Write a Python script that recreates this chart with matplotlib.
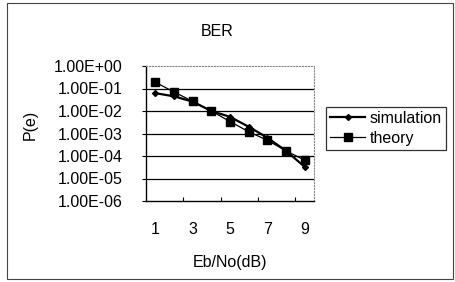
import matplotlib
matplotlib.use("Agg")
import matplotlib.pyplot as plt
from matplotlib.patches import Rectangle

plt.rcParams['font.family'] = ['Liberation Sans', 'DejaVu Sans']

# Eb/No (dB) and bit error rates
ebno = [1, 2, 3, 4, 5, 6, 7, 8, 9]
simulation = [6.2e-2, 4.5e-2, 2.6e-2, 1.0e-2, 5.5e-3, 2.0e-3, 6.5e-4, 1.7e-4, 3.3e-5]
theory = [1.9e-1, 7.0e-2, 2.7e-2, 1.0e-2, 3.4e-3, 1.2e-3, 5.0e-4, 1.7e-4, 6.5e-5]
y_ticks = [1e0, 1e-1, 1e-2, 1e-3, 1e-4, 1e-5, 1e-6]
y_labels = ["1.00E+00", "1.00E-01", "1.00E-02", "1.00E-03", "1.00E-04", "1.00E-05", "1.00E-06"]
x_labels = ["1", "3", "5", "7", "9"]

fs = 11.5

fig = plt.figure(figsize=(4.55, 2.82), dpi=100)
ax = fig.add_axes([146/455, 1 - 201/282, 168/455, 135/282])

ax.plot(ebno, simulation, color='black', lw=1.6, marker='D', ms=3, label='simulation')
ax.plot(ebno, theory, color='black', lw=0.9, marker='s', ms=6, label='theory')

ax.set_yscale('log')
ax.set_ylim(1e-6, 1e0)
ax.set_xlim(0.5, 9.5)
ax.set_yticks(y_ticks)
ax.set_yticklabels(y_labels, fontsize=fs)
ax.minorticks_off()
ax.set_xticks([1, 3, 5, 7, 9])
ax.set_xticklabels(x_labels, fontsize=fs)
ax.set_xticks([2.5, 4.5, 6.5, 8.5], minor=True)
ax.tick_params(axis='x', which='major', length=0, pad=15)
ax.tick_params(axis='x', which='minor', direction='in', length=3, width=0.8)
ax.tick_params(axis='y', which='major', length=3, direction='out', pad=14)

for v in y_ticks[1:-1]:
    ax.axhline(v, color='black', lw=0.9, zorder=0)

for side in ['top', 'right']:
    ax.spines[side].set_linestyle(':')
    ax.spines[side].set_color('#888888')
for side in ['left', 'bottom']:
    ax.spines[side].set_linewidth(1.0)

fig.text(217/455, 1 - 31/282, "BER", ha='center', va='center', fontsize=fs)
fig.text(30/455, 1 - 125/282, "P(e)", ha='center', va='center', rotation=90, fontsize=fs)
fig.text(230/455, 1 - 262/282, "Eb/No(dB)", ha='center', va='center', fontsize=fs)

leg = fig.legend(loc='upper left', bbox_to_anchor=(326/455, 1 - 107/282), fontsize=fs,
                 frameon=True, fancybox=False, edgecolor='black', handlelength=2.2,
                 handletextpad=0.3, borderpad=0.25, labelspacing=0.3, borderaxespad=0)
leg.get_frame().set_linewidth(0.9)

# outer chart border
fig.patches.append(Rectangle((7/455, 3/282), 446/455, 276/282, transform=fig.transFigure,
                             fill=False, edgecolor='#444444', lw=0.8))

fig.savefig("out.png", dpi=100)
